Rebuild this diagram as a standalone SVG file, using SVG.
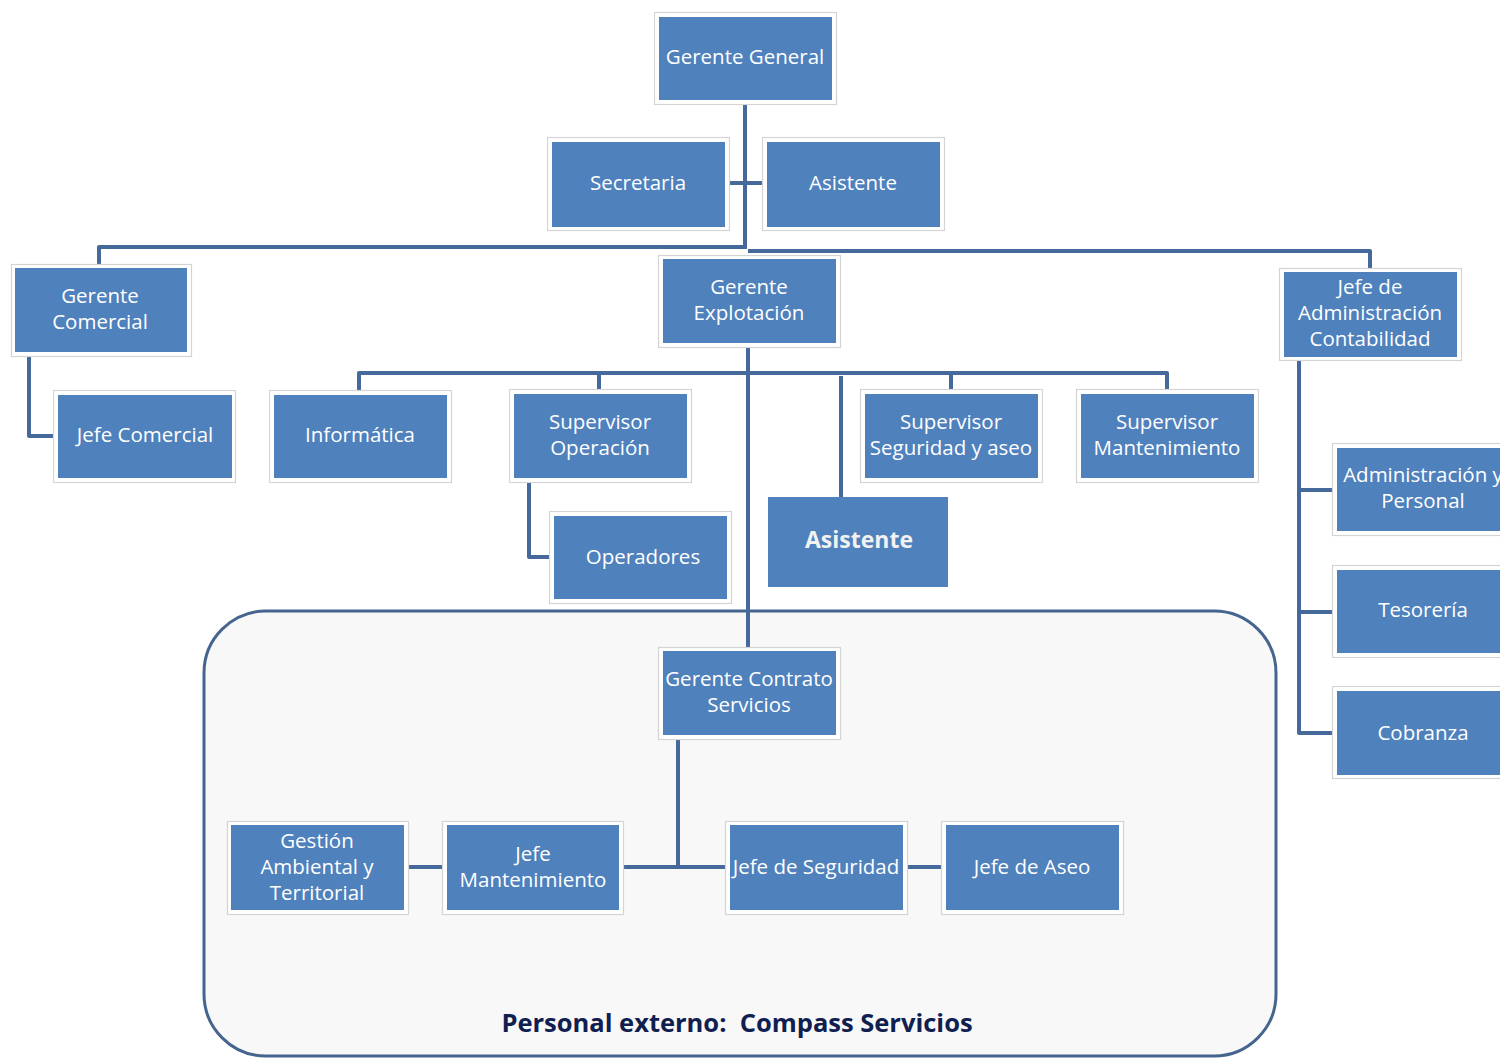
<svg xmlns="http://www.w3.org/2000/svg" width="1500" height="1059" viewBox="0 0 1500 1059">
<style>
.frame{fill:#ffffff;stroke:#d4d4d4;stroke-width:1.2}
.box{fill:#4f81bd}
.t{font-family:"Open Sans","Liberation Sans",sans-serif;font-size:20.5px;fill:#ffffff;text-anchor:middle}
.c{fill:none;stroke:#44699a;stroke-width:4;stroke-linejoin:round}
</style>
<rect x="0" y="0" width="1500" height="1059" fill="#ffffff"/>
<g id="container">
<rect x="204" y="611" width="1072" height="445" rx="62" ry="62" fill="#f8f8f8" stroke="#45658f" stroke-width="3"/>
<text x="737" y="1032" xml:space="preserve" style="white-space:pre" font-family="'Open Sans',sans-serif" font-size="25.5" font-weight="bold" fill="#0f2050" text-anchor="middle">Personal externo:  Compass Servicios</text>
</g>
<g id="connectors">
<path class="c" d="M745 104 V249"/>
<path class="c" d="M729 183 H762"/>
<path class="c" d="M745 247 H99 V264"/>
<path class="c" d="M748 251 H1370 V268"/>
<path class="c" d="M29 357 V436 H53"/>
<path class="c" d="M748 348 V647"/>
<path class="c" d="M359 390 V373 H1167 V389"/>
<path class="c" d="M599 373 V389"/>
<path class="c" d="M951 373 V389"/>
<path class="c" d="M841 376 V497"/>
<path class="c" d="M529 483 V557 H549"/>
<path class="c" d="M1299 361 V733 H1332"/>
<path class="c" d="M1299 490 H1332"/>
<path class="c" d="M1299 612 H1332"/>
<path class="c" d="M678 739 V867"/>
<path class="c" d="M623 867 H725"/>
<path class="c" d="M408 867 H442"/>
<path class="c" d="M907 867 H941"/>
</g>
<g id="gerente-general">
<rect class="frame" x="654.5" y="12.5" width="182" height="92"/>
<rect class="box" x="659" y="17" width="173" height="83"/>
<text class="t" x="745" y="64">Gerente General</text>
</g>
<g id="secretaria">
<rect class="frame" x="547.5" y="137.5" width="182" height="93"/>
<rect class="box" x="552" y="142" width="173" height="85"/>
<text class="t" x="638" y="190">Secretaria</text>
</g>
<g id="asistente-gg">
<rect class="frame" x="762.5" y="137.5" width="182" height="93"/>
<rect class="box" x="767" y="142" width="173" height="85"/>
<text class="t" x="853" y="190">Asistente</text>
</g>
<g id="gerente-comercial">
<rect class="frame" x="11.5" y="264.5" width="180" height="92"/>
<rect class="box" x="15" y="268" width="172" height="84"/>
<text class="t" x="100" y="303">Gerente</text>
<text class="t" x="100" y="329">Comercial</text>
</g>
<g id="jefe-comercial">
<rect class="frame" x="53.5" y="390.5" width="182" height="92"/>
<rect class="box" x="58" y="395" width="174" height="83"/>
<text class="t" x="145" y="442">Jefe Comercial</text>
</g>
<g id="informatica">
<rect class="frame" x="269.5" y="390.5" width="182" height="92"/>
<rect class="box" x="274" y="395" width="173" height="83"/>
<text class="t" x="360" y="442">Informática</text>
</g>
<g id="gerente-explotacion">
<rect class="frame" x="658.5" y="255.5" width="182" height="92"/>
<rect class="box" x="663" y="259" width="173" height="84"/>
<text class="t" x="749" y="294">Gerente</text>
<text class="t" x="749" y="320">Explotación</text>
</g>
<g id="jefe-admin">
<rect class="frame" x="1279.5" y="268.5" width="182" height="92"/>
<rect class="box" x="1284" y="272" width="173" height="85"/>
<text class="t" x="1370" y="294">Jefe de</text>
<text class="t" x="1370" y="320">Administración</text>
<text class="t" x="1370" y="346">Contabilidad</text>
</g>
<g id="supervisor-operacion">
<rect class="frame" x="509.5" y="389.5" width="182" height="93"/>
<rect class="box" x="514" y="394" width="173" height="84"/>
<text class="t" x="600" y="429">Supervisor</text>
<text class="t" x="600" y="455">Operación</text>
</g>
<g id="operadores">
<rect class="frame" x="549.5" y="511.5" width="182" height="92"/>
<rect class="box" x="554" y="516" width="173" height="83"/>
<text class="t" x="643" y="564">Operadores</text>
</g>
<g id="asistente-exp">
<rect class="box" x="768" y="497" width="180" height="90"/>
<text x="859" y="548" font-family="'Open Sans','Liberation Sans',sans-serif" font-size="23" font-weight="bold" fill="#f2f2f2" text-anchor="middle">Asistente</text>
</g>
<g id="supervisor-seguridad">
<rect class="frame" x="860.5" y="389.5" width="182" height="93"/>
<rect class="box" x="865" y="394" width="173" height="84"/>
<text class="t" x="951" y="429">Supervisor</text>
<text class="t" x="951" y="455">Seguridad y aseo</text>
</g>
<g id="supervisor-mantenimiento">
<rect class="frame" x="1076.5" y="389.5" width="182" height="93"/>
<rect class="box" x="1081" y="394" width="173" height="84"/>
<text class="t" x="1167" y="429">Supervisor</text>
<text class="t" x="1167" y="455">Mantenimiento</text>
</g>
<g id="admin-personal">
<rect class="frame" x="1332.5" y="443.5" width="182" height="92"/>
<rect class="box" x="1337" y="448" width="173" height="83"/>
<text class="t" x="1423" y="482">Administración y</text>
<text class="t" x="1423" y="508">Personal</text>
</g>
<g id="tesoreria">
<rect class="frame" x="1332.5" y="565.5" width="182" height="92"/>
<rect class="box" x="1337" y="570" width="173" height="83"/>
<text class="t" x="1423" y="617">Tesorería</text>
</g>
<g id="cobranza">
<rect class="frame" x="1332.5" y="686.5" width="182" height="92"/>
<rect class="box" x="1337" y="691" width="173" height="84"/>
<text class="t" x="1423" y="740">Cobranza</text>
</g>
<g id="gerente-contrato">
<rect class="frame" x="658.5" y="647.5" width="182" height="92"/>
<rect class="box" x="663" y="651" width="173" height="84"/>
<text class="t" x="749" y="686">Gerente Contrato</text>
<text class="t" x="749" y="712">Servicios</text>
</g>
<g id="gestion-ambiental">
<rect class="frame" x="227.5" y="821.5" width="181" height="93"/>
<rect class="box" x="231" y="825" width="173" height="85"/>
<text class="t" x="317" y="848">Gestión</text>
<text class="t" x="317" y="874">Ambiental y</text>
<text class="t" x="317" y="900">Territorial</text>
</g>
<g id="jefe-mantenimiento">
<rect class="frame" x="442.5" y="821.5" width="181" height="93"/>
<rect class="box" x="447" y="825" width="172" height="85"/>
<text class="t" x="533" y="861">Jefe</text>
<text class="t" x="533" y="887">Mantenimiento</text>
</g>
<g id="jefe-seguridad">
<rect class="frame" x="725.5" y="821.5" width="182" height="93"/>
<rect class="box" x="730" y="825" width="173" height="85"/>
<text class="t" x="816" y="874">Jefe de Seguridad</text>
</g>
<g id="jefe-aseo">
<rect class="frame" x="941.5" y="821.5" width="182" height="93"/>
<rect class="box" x="946" y="825" width="173" height="85"/>
<text class="t" x="1032" y="874">Jefe de Aseo</text>
</g>
</svg>
